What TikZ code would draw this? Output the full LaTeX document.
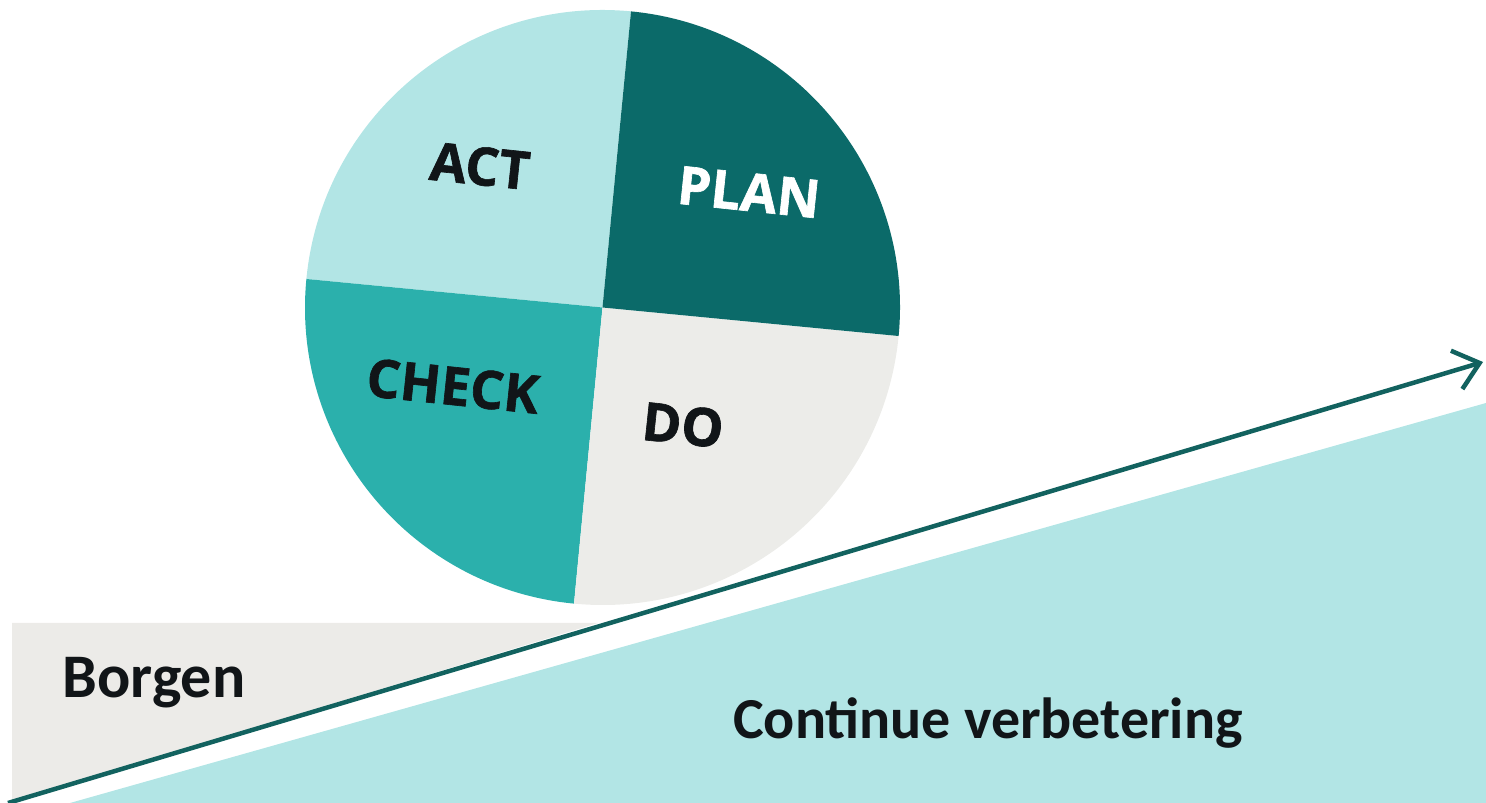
\documentclass[tikz,border=0pt]{standalone}
\usepackage{fontspec}
\setmainfont{Carlito}
\newfontfamily\circfont[BoldFeatures={FakeBold=1.2}]{Open Sans}
\usetikzlibrary{arrows.meta}
\definecolor{actc}{HTML}{B2E5E5}
\definecolor{planc}{HTML}{0B6A69}
\definecolor{checkc}{HTML}{2BB0AC}
\definecolor{doc}{HTML}{ECECE9}
\definecolor{borgc}{HTML}{ECEBE8}
\definecolor{arrowc}{HTML}{12625F}
\definecolor{txt}{HTML}{111518}
\begin{document}
\begin{tikzpicture}[x=1pt,y=1pt,
  circtext/.style={font=\circfont\bfseries\fontsize{53}{60}\selectfont, rotate=-6, inner sep=0pt},
  bottext/.style={font=\bfseries\fontsize{62}{68}\selectfont, text=txt, inner sep=0pt}]
\useasboundingbox (0,0) rectangle (1486,803);
% circle quadrants
\coordinate (c) at (602.5,495.5);
\def\R{297.5}
\fill[actc] (c) -- ++(84.5:\R) arc[start angle=84.5, end angle=174.5, radius=\R] -- cycle;
\fill[checkc] (c) -- ++(174.5:\R) arc[start angle=174.5, end angle=264.5, radius=\R] -- cycle;
\fill[doc] (c) -- ++(264.5:\R) arc[start angle=264.5, end angle=354.5, radius=\R] -- cycle;
\fill[planc] (c) -- ++(-5.5:\R) arc[start angle=-5.5, end angle=84.5, radius=\R] -- cycle;
\node[circtext, text=txt] (act) at (480,637) {ACT};
\node[circtext, text=white] (plan) at (749,611) {PLAN};
\node[circtext, text=txt] (check) at (453,417) {CHECK};
\node[circtext, text=txt] (do) at (683,378) {DO};
% bottom
\coordinate (a) at (8,0);
\coordinate (b) at (1483,441);
\fill[borgc] (12,180) -- (598,180) -- (12,2) -- cycle;
\fill[actc] (70,0) -- (1486,400) -- (1486,0) -- cycle;
\draw[arrowc, line width=4.5pt, -{Straight Barb[length=24pt,width=40pt,line width=4.5pt]}] (a) -- (b);
\node[bottext] (borgen) at (154,120) {Borgen};
\node[bottext, font=\bfseries\fontsize{58}{64}\selectfont] (cv) at (988,80) {Continue verbetering};
\end{tikzpicture}
\end{document}
